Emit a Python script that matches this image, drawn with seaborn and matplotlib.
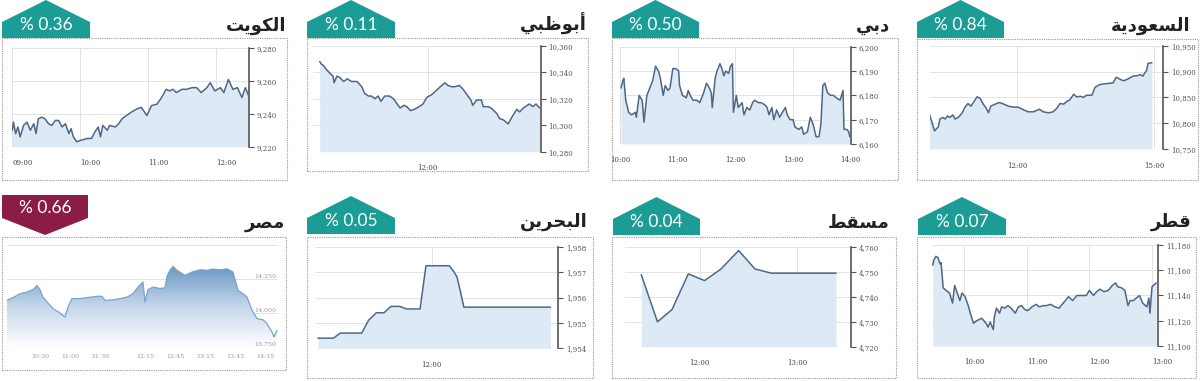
import numpy as np
import pandas as pd
import seaborn as sns
import matplotlib.pyplot as plt
from matplotlib.patches import Polygon, Rectangle
from matplotlib.colors import LinearSegmentedColormap

# ---------------- data: time = minutes after midnight, value = index level ----------------
kuwait_time = [540, 541, 543, 545, 547, 550, 553, 556, 559, 561,
               563, 566, 569, 572, 575, 578, 581, 584, 587, 590,
               592, 594, 597, 601, 606, 610, 613, 616, 618, 620,
               624, 626, 631, 634, 637, 641, 645, 650, 654, 659,
               663, 668, 672, 676, 679, 682, 685, 690, 694, 699,
               703, 707, 712, 715, 719, 724, 727, 731, 735, 739,
               743, 746, 749]
kuwait_value = [9230, 9235, 9228, 9232, 9226, 9233, 9235, 9230, 9234, 9228,
                9237, 9238, 9237, 9234, 9233, 9236, 9236, 9232, 9234, 9228,
                9231, 9226, 9223, 9224, 9225, 9225, 9229, 9232, 9226, 9233,
                9230, 9233, 9232, 9234, 9237, 9239, 9241, 9243, 9244, 9239,
                9245, 9246, 9250, 9255, 9254, 9255, 9253, 9255, 9255, 9256,
                9256, 9253, 9256, 9259, 9254, 9256, 9253, 9261, 9255, 9256,
                9250, 9256, 9251]

abudhabi_time = [607, 609, 611, 614, 618, 621, 622, 625, 628, 632,
                 636, 640, 646, 651, 654, 658, 661, 665, 668, 671,
                 675, 680, 684, 687, 691, 695, 698, 702, 706, 711,
                 715, 719, 724, 727, 733, 738, 741, 745, 748, 753,
                 757, 760, 765, 767, 771, 776, 778, 783, 786, 792,
                 795, 799, 804, 807, 813, 816, 820, 826, 830, 833,
                 837]
abudhabi_value = [10348, 10346, 10345, 10342, 10339, 10337, 10332, 10337, 10336, 10333,
                  10335, 10333, 10333, 10329, 10324, 10322, 10322, 10320, 10322, 10318,
                  10322, 10322, 10320, 10317, 10313, 10315, 10314, 10311, 10312, 10314,
                  10316, 10321, 10323, 10325, 10329, 10332, 10330, 10329, 10329, 10330,
                  10327, 10324, 10319, 10315, 10319, 10319, 10314, 10314, 10313, 10309,
                  10305, 10304, 10301, 10305, 10312, 10310, 10313, 10316, 10314, 10316,
                  10313]

dubai_time = [601, 603, 604, 606, 609, 612, 616, 617, 620, 623,
              624, 625, 628, 631, 634, 637, 640, 642, 645, 647,
              650, 652, 655, 658, 661, 662, 665, 669, 671, 673,
              676, 680, 683, 687, 690, 693, 695, 696, 699, 701,
              704, 706, 708, 710, 713, 715, 717, 718, 721, 723,
              727, 729, 732, 735, 738, 740, 744, 747, 751, 753,
              755, 758, 760, 763, 766, 769, 772, 774, 777, 780,
              782, 786, 789, 791, 795, 798, 801, 804, 807, 809,
              811, 813, 816, 819, 822, 825, 829, 832, 833, 836,
              838, 839]
dubai_value = [6183, 6186, 6187, 6178, 6173, 6172, 6173, 6171, 6180, 6178,
               6174, 6169, 6180, 6183, 6186, 6192, 6190, 6187, 6180, 6184,
               6182, 6183, 6191, 6191, 6190, 6184, 6180, 6179, 6182, 6180,
               6178, 6178, 6177, 6181, 6185, 6183, 6181, 6175, 6187, 6190,
               6193, 6191, 6188, 6190, 6189, 6192, 6193, 6173, 6180, 6175,
               6177, 6172, 6175, 6174, 6177, 6178, 6177, 6177, 6176, 6175,
               6172, 6175, 6170, 6174, 6171, 6173, 6175, 6172, 6170, 6170,
               6167, 6166, 6167, 6164, 6165, 6171, 6168, 6163, 6163, 6168,
               6184, 6185, 6181, 6180, 6180, 6179, 6178, 6182, 6166, 6166,
               6165, 6163]

saudi_time = [604, 606, 609, 611, 614, 616, 618, 622, 625, 628,
              631, 635, 638, 642, 647, 651, 655, 659, 663, 667,
              671, 675, 679, 682, 685, 691, 696, 702, 708, 715,
              721, 728, 734, 741, 749, 754, 761, 767, 772, 776,
              781, 785, 789, 794, 798, 803, 807, 811, 818, 822,
              827, 833, 840, 846, 850, 855, 860, 866, 872, 878,
              882, 885, 888, 890, 892, 897]
saudi_value = [10818, 10809, 10795, 10785, 10790, 10793, 10808, 10811, 10808, 10814,
               10811, 10816, 10808, 10811, 10819, 10831, 10838, 10833, 10842, 10851,
               10848, 10837, 10829, 10820, 10833, 10837, 10840, 10837, 10833, 10831,
               10831, 10826, 10822, 10822, 10827, 10822, 10820, 10822, 10829, 10838,
               10837, 10842, 10845, 10856, 10851, 10852, 10850, 10854, 10854, 10869,
               10874, 10876, 10877, 10878, 10889, 10885, 10882, 10886, 10891, 10892,
               10894, 10891, 10898, 10902, 10916, 10917]

egypt_time = [597, 603, 610, 617, 623, 627, 630, 633, 640, 643,
              650, 655, 658, 662, 670, 677, 687, 692, 695, 703,
              710, 717, 723, 728, 733, 735, 738, 743, 750, 755,
              757, 760, 763, 767, 775, 782, 790, 797, 803, 810,
              817, 823, 828, 833, 837, 842, 847, 853, 857, 862,
              864, 867]
egypt_value = [14093, 14113, 14142, 14154, 14172, 14203, 14172, 14117, 14056, 14032,
               14000, 13970, 14044, 14106, 14106, 14113, 14123, 14123, 14093, 14097,
               14106, 14117, 14142, 14191, 14228, 14081, 14172, 14191, 14180, 14185,
               14270, 14314, 14343, 14314, 14277, 14301, 14318, 14314, 14323, 14318,
               14325, 14301, 14167, 14142, 14117, 14020, 13959, 13950, 13922, 13860,
               13824, 13873]

bahrain_time = [603, 619, 626, 648, 655, 663, 671, 678, 687, 694,
                708, 714, 738, 743, 746, 749, 753, 842]
bahrain_value = [1954.4, 1954.4, 1954.6, 1954.6, 1955.1, 1955.4, 1955.4, 1955.65, 1955.65, 1955.55,
                 1955.55, 1957.25, 1957.25, 1957.0, 1956.8, 1956.3, 1955.62, 1955.62]

muscat_time = [684, 694, 703, 713, 723, 733, 744, 754, 764, 774, 784, 794, 804]
muscat_value = [4749.0, 4730.0, 4735.0, 4749.3, 4746.6, 4751.2, 4758.7, 4751.3,
                4749.6, 4749.6, 4749.6, 4749.6, 4749.6]

qatar_time = [570, 571, 573, 575, 577, 578, 580, 583, 586, 589,
              591, 593, 596, 598, 601, 604, 606, 609, 612, 617,
              621, 623, 625, 628, 629, 631, 634, 636, 639, 642,
              645, 649, 652, 655, 658, 661, 665, 669, 672, 676,
              679, 683, 687, 691, 695, 700, 704, 708, 712, 717,
              720, 724, 727, 730, 734, 738, 742, 745, 747, 751,
              754, 757, 759, 762, 765, 768, 771, 775, 777, 778,
              780, 784]
qatar_value = [11164, 11168, 11171, 11170, 11165, 11166, 11146, 11144, 11142, 11134,
               11148, 11143, 11136, 11142, 11139, 11132, 11126, 11118, 11120, 11122,
               11118, 11115, 11119, 11113, 11123, 11130, 11126, 11131, 11130, 11132,
               11130, 11126, 11131, 11132, 11129, 11128, 11131, 11133, 11131, 11132,
               11132, 11133, 11131, 11130, 11134, 11139, 11136, 11140, 11140, 11140,
               11144, 11140, 11143, 11145, 11143, 11144, 11148, 11150, 11147, 11146,
               11144, 11132, 11136, 11136, 11138, 11140, 11134, 11131, 11138, 11126,
               11147, 11150]

# axis ticks
kuwait_yticks = [9220, 9240, 9260, 9280]
abudhabi_yticks = [10280, 10300, 10320, 10340, 10360]
dubai_yticks = [6160, 6170, 6180, 6190, 6200]
saudi_yticks = [10750, 10800, 10850, 10900, 10950]
egypt_yticks = [13750, 14000, 14250, 14500]
bahrain_yticks = [1954, 1955, 1956, 1957, 1958]
muscat_yticks = [4720, 4730, 4740, 4750, 4760]
qatar_yticks = [11100, 11120, 11140, 11160, 11180]

kuwait_xticks = ["09:00", "10:00", "11:00", "12:00"]
abudhabi_xticks = ["12:00"]
dubai_xticks = ["10:00", "11:00", "12:00", "13:00", "14:00"]
saudi_xticks = ["12:00", "15:00"]
egypt_xticks = ["10:30", "11:00", "11:30", "12:15", "12:45", "13:15", "13:45", "14:15"]
bahrain_xticks = ["12:00"]
muscat_xticks = ["12:00", "13:00"]
qatar_xticks = ["10:00", "11:00", "12:00", "13:00"]

market_names = ["الكويت", "أبوظبي", "دبي", "السعودية", "مصر", "البحرين", "مسقط", "قطر"]
market_changes = ["% 0.36", "% 0.11", "% 0.50", "% 0.84", "% 0.66", "% 0.05", "% 0.04", "% 0.07"]
market_up = [True, True, True, True, False, True, True, True]

# ---------------- layout (pixels on the 1200x381 canvas) ----------------
LAYOUT = [
    dict(box=(2, 38, 287, 180), plot=(11.7, 48.3, 249.3, 146.7), xlim=(539.5, 749.5),
         tab=(2, 90, 38), title=(286, 31), xha="left"),
    dict(box=(307, 38, 588, 171), plot=(313, 45.7, 540.7, 151.7), xlim=(600, 838),
         tab=(307, 395, 38), title=(587, 31), xha="center"),
    dict(box=(612, 38, 898, 180), plot=(619.3, 46.7, 850.7, 144), xlim=(599.3, 840),
         tab=(612, 699, 38), title=(890, 31), xha="center"),
    dict(box=(917, 39, 1198, 180), plot=(930, 45.7, 1163.3, 149), xlim=(605, 912),
         tab=(917, 1004, 38), title=(1190, 31), xha="center"),
    dict(box=(2, 237, 286, 370), plot=(7, 245, 278, 347), xlim=(597, 868),
         tab=(2, 88, 195), title=(285, 228), xha="center", gradient=True),
    dict(box=(307, 237, 593, 378), plot=(315, 246.7, 558.3, 348.3), xlim=(600, 850),
         tab=(307, 395, 234), title=(588, 227), xha="center"),
    dict(box=(612, 237, 896, 378), plot=(625, 247.3, 850.7, 346.7), xlim=(674, 813),
         tab=(613, 700, 235), title=(890, 228), xha="center"),
    dict(box=(917, 237, 1196, 378), plot=(931.7, 245, 1158.3, 346), xlim=(569, 786),
         tab=(918, 1006, 235), title=(1191, 227), xha="left"),
]

W, H = 1200, 381
TEAL = "#1b9d96"
RED = "#8b1c44"
LINE = "#4f6783"
FILL = "#dde9f5"
GRID = "#e3e3e3"
AXIS = "#555555"

# matplotlib has no arabic shaping, so pick the contextual forms by hand
FORMS = {
    "ا": ("\ufe8d", "\ufe8e"), "أ": ("\ufe83", "\ufe84"), "د": ("\ufea9", "\ufeaa"),
    "ر": ("\ufead", "\ufeae"), "و": ("\ufeed", "\ufeee"), "ة": ("\ufe93", "\ufe94"),
    "ب": ("\ufe8f", "\ufe90", "\ufe91", "\ufe92"), "ت": ("\ufe95", "\ufe96", "\ufe97", "\ufe98"),
    "ح": ("\ufea1", "\ufea2", "\ufea3", "\ufea4"), "س": ("\ufeb1", "\ufeb2", "\ufeb3", "\ufeb4"),
    "ص": ("\ufeb9", "\ufeba", "\ufebb", "\ufebc"), "ط": ("\ufec1", "\ufec2", "\ufec3", "\ufec4"),
    "ظ": ("\ufec5", "\ufec6", "\ufec7", "\ufec8"), "ع": ("\ufec9", "\ufeca", "\ufecb", "\ufecc"),
    "ق": ("\ufed5", "\ufed6", "\ufed7", "\ufed8"), "ك": ("\ufed9", "\ufeda", "\ufedb", "\ufedc"),
    "ل": ("\ufedd", "\ufede", "\ufedf", "\ufee0"), "م": ("\ufee1", "\ufee2", "\ufee3", "\ufee4"),
    "ن": ("\ufee5", "\ufee6", "\ufee7", "\ufee8"), "ي": ("\ufef1", "\ufef2", "\ufef3", "\ufef4"),
}


def shape_arabic(word):
    out = []
    for i, ch in enumerate(word):
        forms = FORMS[ch]
        joins_prev = i > 0 and len(FORMS[word[i - 1]]) == 4
        joins_next = len(forms) == 4 and i < len(word) - 1
        if joins_prev and joins_next:
            out.append(forms[3])
        elif joins_prev:
            out.append(forms[1])
        elif joins_next:
            out.append(forms[2])
        else:
            out.append(forms[0])
    return "".join(reversed(out))


def to_min(s):
    h, m = s.split(":")
    return int(h) * 60 + int(m)


def fx(x):
    return x / W


def fy(y):
    return 1 - y / H


sns.set_style("white")
plt.rcParams["font.family"] = ["DejaVu Sans"]

fig = plt.figure(figsize=(12, 3.81), dpi=100)


def draw_box(box):
    x0, y0, x1, y1 = box
    fig.add_artist(Rectangle((fx(x0), fy(y1)), (x1 - x0) / W, (y1 - y0) / H,
                             transform=fig.transFigure, fill=False, ec="#9a9a9a",
                             lw=0.8, ls=(0, (1, 1))))


def draw_tab(tab, up, text):
    x0, x1, y = tab
    xm = (x0 + x1) / 2
    if up:
        pts = [(x0, y), (x0, y - 16), (xm, y - 38), (x1, y - 16), (x1, y)]
        ty, color = y - 13, TEAL
    else:
        pts = [(x0, y), (x1, y), (x1, y + 23), (xm, y + 40), (x0, y + 23)]
        ty, color = y + 13, RED
    fig.add_artist(Polygon([(fx(a), fy(b)) for a, b in pts], closed=True,
                           transform=fig.transFigure, fc=color, ec="none"))
    fig.text(fx(xm), fy(ty), text, color="white", fontsize=12.5, family="Lato",
             ha="center", va="center")


def draw_panel(lay, times, values, yticks, xticks, name, change, up):
    draw_box(lay["box"])
    draw_tab(lay["tab"], up, change)
    fig.text(fx(lay["title"][0]), fy(lay["title"][1]), shape_arabic(name),
             ha="right", va="baseline", fontsize=13, fontweight="bold", color="#222222")

    x0, y0, x1, y1 = lay["plot"]
    ax = fig.add_axes([fx(x0), fy(y1), (x1 - x0) / W, (y1 - y0) / H])
    df = pd.DataFrame({"time": times, "value": values})
    base = yticks[0]

    if lay.get("gradient"):
        poly = ax.fill_between(df["time"], df["value"], base, facecolor="none", lw=0)
        cmap = LinearSegmentedColormap.from_list("eg", ["#ffffff", "#c6d8ea", "#6a97c2"])
        grad = np.linspace(0, 1, 256).reshape(-1, 1)
        im = ax.imshow(grad, extent=[lay["xlim"][0], lay["xlim"][1], base, max(values)],
                       origin="lower", aspect="auto", cmap=cmap, zorder=2)
        im.set_clip_path(poly.get_paths()[0], transform=ax.transData)
        sns.lineplot(data=df, x="time", y="value", ax=ax, color="#7aa3cb", lw=0.9, zorder=3)
    else:
        ax.fill_between(df["time"], df["value"], base, color=FILL, lw=0, zorder=2)
        sns.lineplot(data=df, x="time", y="value", ax=ax, color=LINE, lw=1.1, zorder=3)

    ax.set_xlim(lay["xlim"])
    ax.set_ylim(yticks[0], yticks[-1])
    ax.set_yticks(yticks)
    ax.set_xticks([to_min(s) for s in xticks])
    ax.set_xticklabels(xticks, ha=lay["xha"], family="DejaVu Serif")
    ax.set_xlabel("")
    ax.set_ylabel("")
    ax.grid(True, color=GRID, lw=0.7)
    ax.set_axisbelow(True)
    for s in ("top", "left", "bottom"):
        ax.spines[s].set_visible(False)

    if lay.get("gradient"):
        ax.spines["right"].set_visible(False)
        ax.grid(False, axis="x")
        ax.tick_params(axis="x", length=0, pad=5, labelsize=4.5, labelcolor="#999999")
        ax.tick_params(axis="y", length=0, labelleft=False, labelright=False)
        for v in yticks[:3]:
            ax.text(0.995, v, f"{v:,}", transform=ax.get_yaxis_transform(), ha="right",
                    va="bottom", fontsize=4.5, color="#999999", family="DejaVu Serif")
    else:
        ax.yaxis.tick_right()
        ax.spines["right"].set_color(AXIS)
        ax.spines["right"].set_linewidth(1.2)
        ax.set_yticklabels([f"{v:,}" for v in yticks], family="DejaVu Serif")
        ax.tick_params(axis="y", length=3.5, width=0.8, color=AXIS, pad=2,
                       labelsize=5, labelcolor="#555555")
        ax.tick_params(axis="x", length=0, pad=9, labelsize=5, labelcolor="#444444")
    return ax


series = [
    (kuwait_time, kuwait_value, kuwait_yticks, kuwait_xticks),
    (abudhabi_time, abudhabi_value, abudhabi_yticks, abudhabi_xticks),
    (dubai_time, dubai_value, dubai_yticks, dubai_xticks),
    (saudi_time, saudi_value, saudi_yticks, saudi_xticks),
    (egypt_time, egypt_value, egypt_yticks, egypt_xticks),
    (bahrain_time, bahrain_value, bahrain_yticks, bahrain_xticks),
    (muscat_time, muscat_value, muscat_yticks, muscat_xticks),
    (qatar_time, qatar_value, qatar_yticks, qatar_xticks),
]

for i, (t, v, yt, xt) in enumerate(series):
    draw_panel(LAYOUT[i], t, v, yt, xt, market_names[i], market_changes[i], market_up[i])

fig.savefig("out.png", dpi=100)
